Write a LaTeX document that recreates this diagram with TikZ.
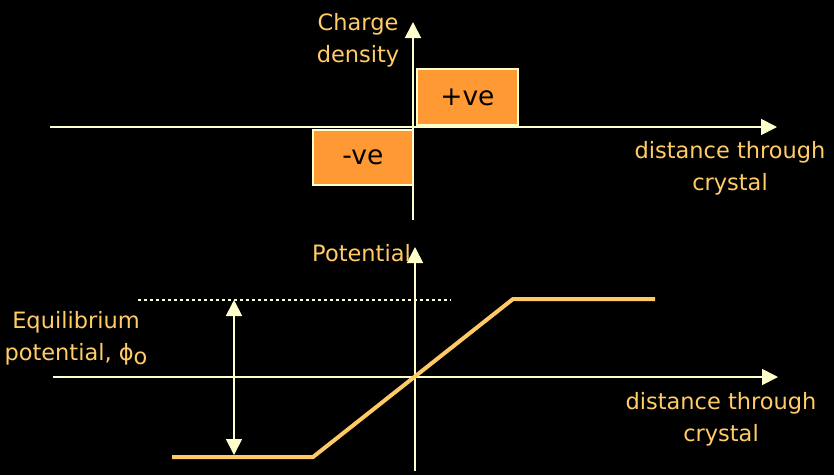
\documentclass[tikz,border=0pt]{standalone}
\usepackage{fontspec}
\setmainfont{DejaVu Sans}
\usetikzlibrary{arrows.meta}
\definecolor{axis}{HTML}{FFFFCC}
\definecolor{txt}{HTML}{FFCC66}
\definecolor{boxfill}{HTML}{FF9933}
\definecolor{curve}{HTML}{FFC966}
\begin{document}
\begin{tikzpicture}[x=1pt,y=-1pt,
  tip/.style={Triangle[length=16pt,width=16pt]},
  ax/.style={draw=axis,line width=1.8pt,-{Triangle[length=16pt,width=16pt]}},
  lbl/.style={text=txt,font=\fontsize{22.5}{32}\selectfont,align=center,inner sep=0pt},
  chg/.style={draw=axis,line width=1.8pt,fill=boxfill,font=\fontsize{26.5}{30}\selectfont,text=black,inner sep=0pt,anchor=north west}]
\fill[black] (0,0) rectangle (834,475);
\useasboundingbox (0,0) rectangle (834,475);
% top graph
\coordinate (tl) at (50,127);
\coordinate (tr) at (777,127);
\coordinate (tb) at (413,220);
\coordinate (tt) at (413,22);
\draw[ax] (tl) -- (tr);
\draw[ax] (tb) -- (tt);
\node[chg,minimum width=101pt,minimum height=56pt] (pos) at (416,68) {+ve};
\node[chg,minimum width=100pt,minimum height=55pt] (neg) at (312,129) {-ve};
\node[lbl] (cd) at (358,40) {Charge\\density};
\node[lbl] (dx1) at (730,168) {distance through\\crystal};
% bottom graph
\coordinate (bl) at (53,377);
\coordinate (br) at (778,377);
\coordinate (bb) at (415,471);
\coordinate (bt) at (415,247);
\draw[ax] (bl) -- (br);
\draw[ax] (bb) -- (bt);
\node[lbl,anchor=east] (pot) at (411,253) {Potential};
\node[lbl] (dx2) at (721,419) {distance through\\crystal};
\node[lbl] (eq) at (76,338) {Equilibrium\\potential, ϕ\raisebox{-0.35ex}{o}};
\coordinate (d1) at (138,300);
\coordinate (d2) at (451,300);
\draw[axis,line width=2pt,dash pattern=on 3pt off 3pt] (d1) -- (d2);
\coordinate (a1) at (234,300);
\coordinate (a2) at (234,455);
\draw[draw=axis,line width=1.8pt,{Triangle[length=16pt,width=16pt]}-{Triangle[length=16pt,width=16pt]}] (a1) -- (a2);
\coordinate (c1) at (172,457);
\coordinate (c2) at (313,457);
\coordinate (c3) at (513,299);
\coordinate (c4) at (655,299);
\draw[curve,line width=4pt] (c1) -- (c2) -- (c3) -- (c4);
\end{tikzpicture}
\end{document}
